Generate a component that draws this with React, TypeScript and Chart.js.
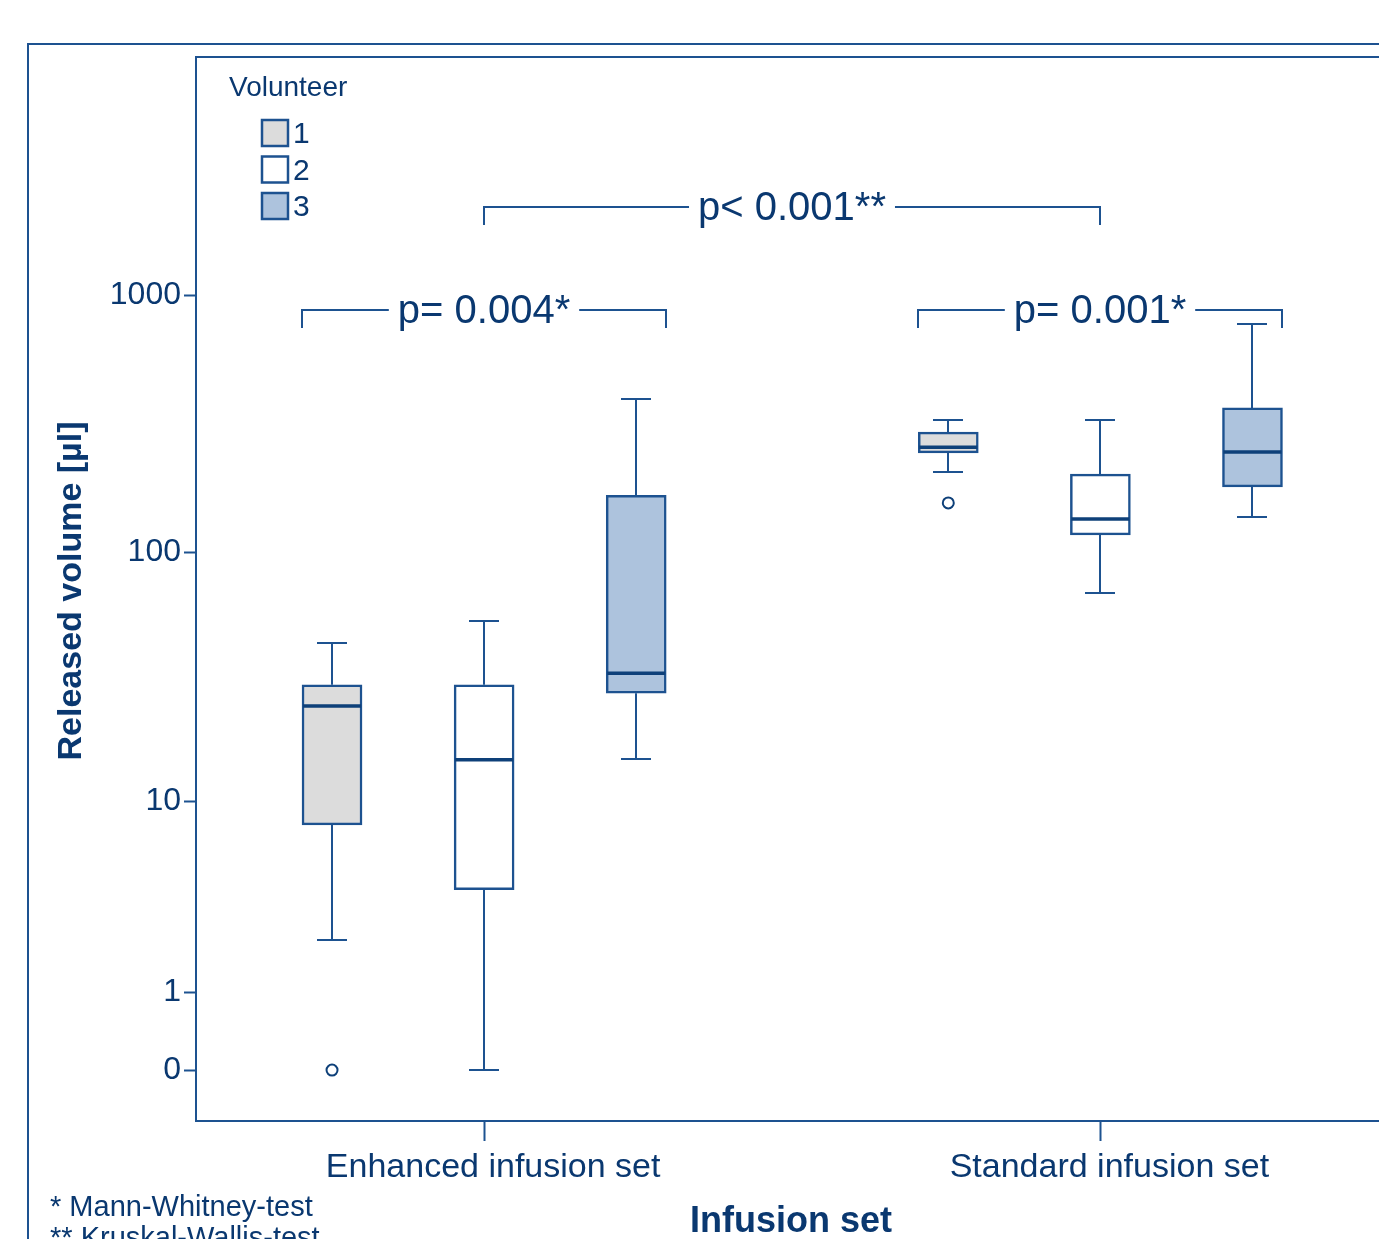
import React, { useEffect, useRef } from "react";
import { Chart, registerables } from "chart.js";

Chart.register(...registerables);

// ---------- data ----------
const categories = ["Enhanced infusion set", "Standard infusion set"];
const categoryPositions = [1, 2];
const volunteerLabels = ["1", "2", "3"];
const volunteerOffsets = [-0.2468, 0, 0.2468];

// Volunteer 1 (per category: Enhanced, Standard)
const v1Min = [2.2, 206];
const v1Q1 = [7.9, 244];
const v1Median = [24.7, 257];
const v1Q3 = [30, 294];
const v1Max = [44, 328];
const v1Outliers = [[0], [156]];

// Volunteer 2
const v2Min = [0, 69];
const v2Q1 = [4.0, 117];
const v2Median = [14.9, 135];
const v2Q3 = [30, 202];
const v2Max = [54, 327];
const v2Outliers: number[][] = [[], []];

// Volunteer 3
const v3Min = [15, 137];
const v3Q1 = [27.8, 180];
const v3Median = [33.4, 246];
const v3Q3 = [167, 365];
const v3Max = [395, 772];
const v3Outliers: number[][] = [[], []];

const yTickValues = [0, 1, 10, 100, 1000];
const yTickLabels = ["0", "1", "10", "100", "1000"];

// significance brackets
const bracketLabels = ["p= 0.004*", "p< 0.001**", "p= 0.001*"];
const bracketLevels = [875, 2190, 875]; // µl
const bracketFrom = [
  { cat: 0, vol: 0, edge: -1 },
  { cat: 0, vol: 1, edge: 0 },
  { cat: 1, vol: 0, edge: -1 },
];
const bracketTo = [
  { cat: 0, vol: 2, edge: 1 },
  { cat: 1, vol: 1, edge: 0 },
  { cat: 1, vol: 2, edge: 1 },
];

const footnotes = ["* Mann-Whitney-test", "** Kruskal-Wallis-test"];
const xTitle = "Infusion set";
const yTitle = "Released volume [µl]";
const legendTitle = "Volunteer";

// ---------- styles ----------
const LINE = "#1d5290";
const DARK = "#0e4079";
const TEXT = "#0a3870";
const FILLS = ["#dcdcdc", "#ffffff", "#adc3dd"];
const FONT = '"Liberation Sans", Arial, Helvetica, sans-serif';
const BOX_W = 60;

const toAxis = (v: number) => Math.log10(v + 1);

const volumeStats = [
  { min: v1Min, q1: v1Q1, med: v1Median, q3: v1Q3, max: v1Max, out: v1Outliers },
  { min: v2Min, q1: v2Q1, med: v2Median, q3: v2Q3, max: v2Max, out: v2Outliers },
  { min: v3Min, q1: v3Q1, med: v3Median, q3: v3Q3, max: v3Max, out: v3Outliers },
];

const extrasPlugin = {
  id: "boxExtras",
  beforeDatasetsDraw(chart: any) {
    const { ctx, scales } = chart;
    const x = scales.x;
    const y = scales.y;
    ctx.save();
    ctx.strokeStyle = LINE;
    ctx.lineWidth = 2;
    volumeStats.forEach((s, vi) => {
      categoryPositions.forEach((c, ci) => {
        const px = Math.round(x.getPixelForValue(c + volunteerOffsets[vi]));
        const yMin = Math.round(y.getPixelForValue(toAxis(s.min[ci])));
        const yQ1 = y.getPixelForValue(toAxis(s.q1[ci]));
        const yQ3 = y.getPixelForValue(toAxis(s.q3[ci]));
        const yMax = Math.round(y.getPixelForValue(toAxis(s.max[ci])));
        ctx.beginPath();
        ctx.moveTo(px, yQ1);
        ctx.lineTo(px, yMin);
        ctx.moveTo(px - BOX_W / 4, yMin);
        ctx.lineTo(px + BOX_W / 4, yMin);
        ctx.moveTo(px, yQ3);
        ctx.lineTo(px, yMax);
        ctx.moveTo(px - BOX_W / 4, yMax);
        ctx.lineTo(px + BOX_W / 4, yMax);
        ctx.stroke();
      });
    });
    ctx.restore();
  },
  afterDatasetsDraw(chart: any) {
    const { ctx, scales, chartArea } = chart;
    const x = scales.x;
    const y = scales.y;
    ctx.save();
    // medians
    ctx.strokeStyle = DARK;
    ctx.lineWidth = 3.5;
    volumeStats.forEach((s, vi) => {
      categoryPositions.forEach((c, ci) => {
        const px = x.getPixelForValue(c + volunteerOffsets[vi]);
        const ym = y.getPixelForValue(toAxis(s.med[ci]));
        ctx.beginPath();
        ctx.moveTo(px - BOX_W / 2 + 1, ym);
        ctx.lineTo(px + BOX_W / 2 - 1, ym);
        ctx.stroke();
      });
    });

    // plot top border and bottom axis continuation
    ctx.strokeStyle = LINE;
    ctx.lineWidth = 2;
    ctx.beginPath();
    ctx.moveTo(chartArea.left - 1, chartArea.top);
    ctx.lineTo(chart.width, chartArea.top);
    ctx.moveTo(chartArea.right - 2, chartArea.bottom);
    ctx.lineTo(chart.width, chartArea.bottom);
    ctx.stroke();

    // outer frame
    ctx.beginPath();
    ctx.moveTo(28, chart.height);
    ctx.lineTo(28, 44);
    ctx.lineTo(chart.width, 44);
    ctx.stroke();

    // brackets
    ctx.font = `40px ${FONT}`;
    ctx.textBaseline = "middle";
    ctx.textAlign = "left";
    bracketLabels.forEach((label, i) => {
      const f = bracketFrom[i];
      const t = bracketTo[i];
      const x0 = Math.round(x.getPixelForValue(categoryPositions[f.cat] + volunteerOffsets[f.vol]) + (f.edge * BOX_W) / 2);
      const x1 = Math.round(x.getPixelForValue(categoryPositions[t.cat] + volunteerOffsets[t.vol]) + (t.edge * BOX_W) / 2);
      const yb = Math.round(y.getPixelForValue(toAxis(bracketLevels[i])));
      const w = ctx.measureText(label).width;
      const mid = (x0 + x1) / 2;
      const tx0 = mid - w / 2;
      const tx1 = mid + w / 2;
      ctx.strokeStyle = LINE;
      ctx.lineWidth = 2;
      ctx.beginPath();
      ctx.moveTo(x0, yb + 18);
      ctx.lineTo(x0, yb);
      ctx.lineTo(tx0 - 9, yb);
      ctx.moveTo(tx1 + 9, yb);
      ctx.lineTo(x1, yb);
      ctx.lineTo(x1, yb + 18);
      ctx.stroke();
      ctx.fillStyle = TEXT;
      ctx.fillText(label, tx0, yb + 2);
    });

    // legend
    const lx = chartArea.left + 34;
    ctx.fillStyle = TEXT;
    ctx.font = `28px ${FONT}`;
    ctx.textBaseline = "alphabetic";
    ctx.fillText(legendTitle, chartArea.left + 33, chartArea.top + 39);
    ctx.font = `30px ${FONT}`;
    volunteerLabels.forEach((lab, i) => {
      const top = chartArea.top + 63 + i * 36.5;
      ctx.fillStyle = FILLS[i];
      ctx.fillRect(lx + 32, top, 26, 26);
      ctx.strokeStyle = LINE;
      ctx.lineWidth = 2.5;
      ctx.strokeRect(lx + 32, top, 26, 26);
      ctx.fillStyle = TEXT;
      ctx.textBaseline = "middle";
      ctx.fillText(lab, lx + 63, top + 15);
    });

    // axis titles
    ctx.fillStyle = TEXT;
    ctx.font = `bold 36px ${FONT}`;
    ctx.textAlign = "center";
    ctx.textBaseline = "middle";
    ctx.fillText(xTitle, 791, 1222);
    ctx.font = `bold 34px ${FONT}`;
    ctx.save();
    ctx.translate(72, 591);
    ctx.rotate(-Math.PI / 2);
    ctx.fillText(yTitle, 0, 0);
    ctx.restore();

    // footnotes
    ctx.font = `29px ${FONT}`;
    ctx.textAlign = "left";
    ctx.textBaseline = "alphabetic";
    footnotes.forEach((fn, i) => {
      ctx.fillText(fn, 50, 1216 + i * 31);
    });
    ctx.restore();
  },
};

export default function App() {
  const ref = useRef<HTMLCanvasElement | null>(null);
  useEffect(() => {
    if (!ref.current) return;
    const datasets: any[] = volumeStats.map((s, vi) => ({
      type: "bar",
      label: volunteerLabels[vi],
      data: categoryPositions.map((c, ci) => ({
        x: c + volunteerOffsets[vi],
        y: [toAxis(s.q1[ci]), toAxis(s.q3[ci])],
      })),
      backgroundColor: FILLS[vi],
      borderColor: LINE,
      borderWidth: 2.5,
      borderSkipped: false,
      barThickness: BOX_W,
      grouped: false,
    }));
    volumeStats.forEach((s, vi) => {
      const pts: { x: number; y: number }[] = [];
      categoryPositions.forEach((c, ci) => {
        s.out[ci].forEach((o) => pts.push({ x: c + volunteerOffsets[vi], y: toAxis(o) }));
      });
      if (pts.length) {
        datasets.push({
          type: "scatter",
          label: "outliers " + volunteerLabels[vi],
          data: pts,
          pointRadius: 5.5,
          pointBorderWidth: 2,
          pointBackgroundColor: "#ffffff",
          pointBorderColor: DARK,
        });
      }
    });

    const chart = new Chart(ref.current, {
      type: "bar",
      data: { datasets },
      options: {
        responsive: false,
        animation: false,
        layout: { padding: { top: 57, left: 0, right: 0, bottom: 0 } },
        plugins: { legend: { display: false }, tooltip: { enabled: false } },
        scales: {
          x: {
            type: "linear",
            offset: false,
            min: 1 - 288 / 616,
            max: 1 - 288 / 616 + 1175 / 616,
            afterBuildTicks: (scale: any) => {
              scale.ticks = categoryPositions.map((v) => ({ value: v }));
            },
            afterFit: (scale: any) => {
              scale.height = 118;
            },
            ticks: {
              callback: (_v: any, i: number) => categories[i],
              color: TEXT,
              font: { family: FONT, size: 34 },
              padding: 6,
              labelOffset: 9,
              maxRotation: 0,
              autoSkip: false,
            },
            grid: {
              offset: false,
              drawOnChartArea: false,
              drawTicks: true,
              tickLength: 20,
              tickColor: LINE,
              tickWidth: 2,
            },
            border: { display: true, color: LINE, width: 2 },
          },
          y: {
            type: "linear",
            min: -0.197,
            max: 3.922,
            afterBuildTicks: (scale: any) => {
              scale.ticks = yTickValues.map((v) => ({ value: toAxis(v) }));
            },
            afterFit: (scale: any) => {
              scale.width = 196;
            },
            ticks: {
              callback: (_v: any, i: number) => yTickLabels[i],
              color: TEXT,
              font: { family: FONT, size: 32 },
              padding: 3,
              autoSkip: false,
            },
            grid: {
              drawOnChartArea: false,
              drawTicks: true,
              tickLength: 12,
              tickColor: LINE,
              tickWidth: 2,
            },
            border: { display: true, color: LINE, width: 2 },
          },
        },
      },
      plugins: [extrasPlugin],
    } as any);
    return () => chart.destroy();
  }, []);

  return (
    <div style={{ position: "absolute", left: 0, top: 0, width: 1379, height: 1239, background: "#fff" }}>
      <canvas ref={ref} width={1379} height={1239} style={{ display: "block" }} />
    </div>
  );
}
